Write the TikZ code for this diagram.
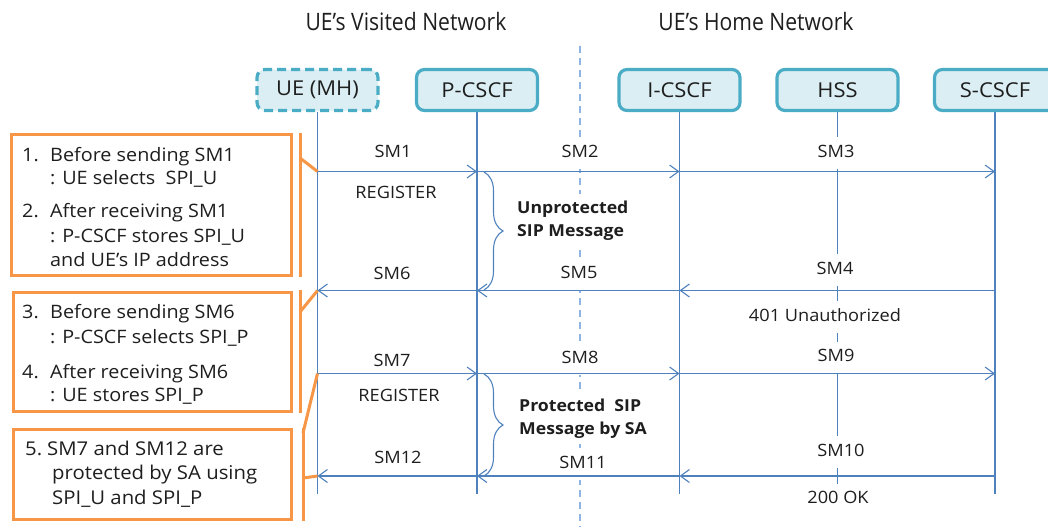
\documentclass[tikz,border=0pt]{standalone}
\usepackage{fontspec}
\setmainfont{Open Sans}[FakeStretch=1.07]
\newfontfamily\headfont{Open Sans}[FakeStretch=0.88]
\usetikzlibrary{arrows.meta,decorations.pathreplacing,backgrounds}
\definecolor{lifeblue}{RGB}{79,129,189}
\definecolor{dashblue}{RGB}{141,180,226}
\definecolor{boxfill}{RGB}{218,238,243}
\definecolor{boxline}{RGB}{75,172,198}
\definecolor{callout}{RGB}{247,150,70}
\definecolor{ink}{RGB}{30,30,30}
\begin{document}
\begin{tikzpicture}[x=1pt,y=-1pt,
  title/.style={inner sep=0pt, text=ink, font=\headfont\fontsize{24}{28}\selectfont},
  entity/.style={draw=boxline, fill=boxfill, line width=3.2pt, rounded corners=8pt,
    minimum width=121pt, minimum height=41pt, inner sep=0pt, text=ink,
    font=\fontsize{20.5}{24}\selectfont},
  lifeline/.style={draw=lifeblue, line width=1.1pt},
  divider/.style={draw=dashblue, line width=1.6pt, dash pattern=on 7pt off 5pt},
  msg/.style={draw=lifeblue, line width=1.1pt,
    -{Straight Barb[length=9pt,width=13pt,line width=1.1pt]}},
  lbl/.style={fill=white, inner xsep=3pt, inner ysep=8pt, text height=12pt,
    text depth=3.5pt, text=ink, font=\fontsize{17}{20}\selectfont},
  note/.style={fill=white, anchor=base west, inner xsep=0pt, inner ysep=3pt,
    text=ink, font=\bfseries\fontsize{16.5}{23}\selectfont},
  item/.style={anchor=base west, inner sep=0pt, text=ink},
  brace/.style={draw=lifeblue, line width=1.1pt, decorate,
    decoration={brace, amplitude=19pt}},
  calloutbox/.style={draw=callout, line width=3pt},
  calloutline/.style={draw=callout, line width=3pt}
]
\useasboundingbox (0,0) rectangle (1048,527);
\clip (0,0) rectangle (1048,527);

% network titles
\node[title] (visited) at (406,22) {UE’s Visited Network};
\node[title] (home) at (756,22) {UE’s Home Network};

% entities
\node[entity, dash pattern=on 9pt off 5pt] (ue) at (317.5,90) {UE (MH)};
\node[entity] (pcscf) at (477,90) {P-CSCF};
\node[entity] (icscf) at (679.5,90) {I-CSCF};
\node[entity] (hss) at (837.5,90) {HSS};
\node[entity] (scscf) at (995,90) {S-CSCF};

% message rows
\coordinate (r1) at (0,171.5);
\coordinate (r2) at (0,290.5);
\coordinate (r3) at (0,373.5);
\coordinate (r4) at (0,476);
\coordinate (bottom) at (0,494);

% network divider and lifelines
\begin{scope}[on background layer]
  \draw[divider] (580,46) coordinate (divtop) -- (580,527) coordinate (divbot);
  \foreach \e in {ue,pcscf,icscf,hss,scscf}
    \draw[lifeline] (\e.south) -- (\e |- bottom);
\end{scope}

% message labels
\node[lbl] (sm1) at (393,153) {SM1};
\node[lbl] (reg1) at (396,194) {REGISTER};
\node[lbl] (sm2) at (580,153) {SM2};
\node[lbl] (sm3) at (836,153) {SM3};
\node[lbl] (sm4) at (835,270) {SM4};
\node[lbl] (sm5) at (579,274.5) {SM5};
\node[lbl] (sm6) at (392,275) {SM6};
\node[lbl] (unauth) at (825,317) {401 Unauthorized};
\node[lbl] (sm7) at (392,362) {SM7};
\node[lbl] (sm8) at (580,359) {SM8};
\node[lbl] (sm9) at (836,357.5) {SM9};
\node[lbl] (reg2) at (399,397) {REGISTER};
\node[lbl] (sm10) at (841,452) {SM10};
\node[lbl] (sm11) at (583,464) {SM11};
\node[lbl] (sm12) at (398,459.5) {SM12};
\node[lbl] (ok) at (838,499.5) {200 OK};

% messages
\draw[msg] (ue |- r1) -- (pcscf |- r1);
\draw[msg] (pcscf |- r1) -- (icscf |- r1);
\draw[msg] (icscf |- r1) -- (scscf |- r1);
\draw[msg] (scscf |- r2) -- (icscf |- r2);
\draw[msg] (icscf |- r2) -- (pcscf |- r2);
\draw[msg] (pcscf |- r2) -- (ue |- r2);
\draw[msg] (ue |- r3) -- (pcscf |- r3);
\draw[msg] (pcscf |- r3) -- (icscf |- r3);
\draw[msg] (icscf |- r3) -- (scscf |- r3);
\draw[msg] (scscf |- r4) -- (icscf |- r4);
\draw[msg] (icscf |- r4) -- (pcscf |- r4);
\draw[msg] (pcscf |- r4) -- (ue |- r4);

% protection braces and notes
\draw[brace] (484,172) coordinate (b1top) -- (484,290) coordinate (b1bot);
\draw[brace] (484,374) coordinate (b2top) -- (484,476) coordinate (b2bot);
\node[note] (unprot) at (517,213)
  {\begin{tabular}[t]{@{}l@{}}Unprotected\\SIP Message\end{tabular}};
\node[note] (prot) at (519,411.5)
  {\begin{tabular}[t]{@{}l@{}}Protected~ SIP\\Message by SA\end{tabular}};

% callout boxes
\draw[calloutbox] (11.5,134.5) rectangle (291.5,275.5);
\draw[calloutbox] (13.5,292.5) rectangle (291.5,411.5);
\draw[calloutbox] (13.5,429.5) rectangle (291.5,519.5);

\draw[calloutline] (300,133) coordinate (bar1a) -- (300,277) coordinate (bar1b);
\draw[calloutline] (300,158) coordinate (c1) -- (ue |- r1);
\draw[calloutline] (300,290) coordinate (bar2a) -- (300,413) coordinate (bar2b);
\draw[calloutline] (300,312) coordinate (c2) -- (ue |- r2);
\draw[calloutline] (303,428) coordinate (bar3a) -- (303,521) coordinate (bar3b);
\draw[calloutline] (303,433) coordinate (c3) -- (ue |- r3);
\draw[calloutline] (303,478) coordinate (c4) -- (ue |- r4);

% callout texts
\node[item] (step1) at (22,161.5) {\fontsize{18.5}{23}\selectfont
  \begin{tabular}[t]{@{}l@{}l@{}}\makebox[28pt][l]{1.}&Before sending SM1\\
  &: UE selects~ SPI\_U\end{tabular}};
\node[item] (step2) at (22,217.5) {\fontsize{18.5}{24.5}\selectfont
  \begin{tabular}[t]{@{}l@{}l@{}}\makebox[28pt][l]{2.}&After receiving SM1\\
  &: P-CSCF stores SPI\_U\\&and UE’s IP address\end{tabular}};
\node[item] (step3) at (22,318.5) {\fontsize{18.5}{25}\selectfont
  \begin{tabular}[t]{@{}l@{}l@{}}\makebox[28pt][l]{3.}&Before sending SM6\\
  &: P-CSCF selects SPI\_P\end{tabular}};
\node[item] (step4) at (22,378.5) {\fontsize{18.5}{23}\selectfont
  \begin{tabular}[t]{@{}l@{}l@{}}\makebox[28pt][l]{4.}&After receiving SM6\\
  &: UE stores SPI\_P\end{tabular}};
\node[item] (step5) at (25,455) {\fontsize{19}{24.5}\selectfont
  \begin{tabular}[t]{@{}l@{}l@{}}\makebox[22pt][l]{5.}&SM7 and SM12 are\\
  &\hspace{5pt}protected by SA using\\&\hspace{5pt}SPI\_U and SPI\_P\end{tabular}};
\end{tikzpicture}
\end{document}
